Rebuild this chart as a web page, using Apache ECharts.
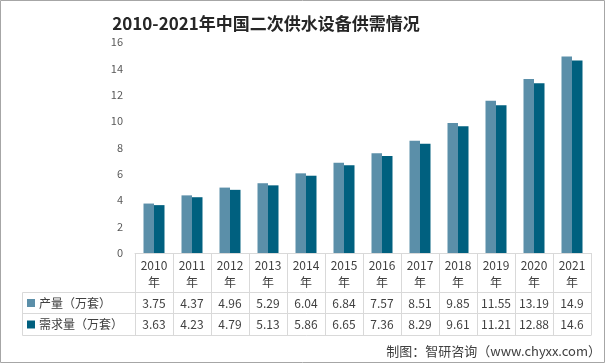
<!DOCTYPE html>
<html><head><meta charset="utf-8">
<script src="https://cdn.jsdelivr.net/npm/echarts@6/dist/echarts.min.js"></script>
<style>html,body{margin:0;padding:0;background:#fff}#c{width:605px;height:363px}</style>
</head><body><div id="c"></div>
<script>
const titleText = '2010-2021年中国二次供水设备供需情况';
const sourceText = '制图：智研咨询（www.chyxx.com）';
const years = ['2010','2011','2012','2013','2014','2015','2016','2017','2018','2019','2020','2021'];
const production = [3.75,4.37,4.96,5.29,6.04,6.84,7.57,8.51,9.85,11.55,13.19,14.9];
const demand = [3.63,4.23,4.79,5.13,5.86,6.65,7.36,8.29,9.61,11.21,12.88,14.6];
const seriesNames = ['产量（万套）','需求量（万套）'];
const yMin = 0, yMax = 16, yStep = 2;

const FONT = '"Noto Sans CJK SC", "Microsoft YaHei", sans-serif';
const C1 = '#5b8fa9', C2 = '#00607f';
const LINE = '#d9d9d9';
const W = 605, H = 363;
const gL = 135, gR = 591, gT = 42, gB = 253;
const rowY = [292.5, 313.5, 335.5];
const rowLeft = 22.5;

const chart = echarts.init(document.getElementById('c'), null, {renderer:'canvas'});
const valueAxis = (offset, arr) => ({
  type:'category', data: years, position:'bottom', offset: offset, gridIndex:0,
  axisLine:{show:false}, axisTick:{show:false},
  axisLabel:{interval:0, margin:0, verticalAlign:'middle', fontFamily:FONT, fontSize:12, color:'#404040',
    formatter:(v,i)=>String(arr[i])}
});
chart.setOption({
  animation:false,
  backgroundColor:'#fff',
  title:{text:titleText, left:261, textAlign:'center', top:10,
    textStyle:{fontFamily:FONT, fontSize:17, fontWeight:'bold', color:'#262626'}},
  grid:{left:gL, right:W-gR, top:gT, bottom:H-gB, containLabel:false},
  xAxis:[
    {type:'category', data: years, position:'bottom',
      axisLine:{show:true, lineStyle:{color:LINE, width:1}},
      axisTick:{show:true, interval:0, length: rowY[2]-gB, lineStyle:{color:LINE}},
      axisLabel:{interval:0, margin:4, fontFamily:FONT, fontSize:12, lineHeight:17, color:'#404040',
        formatter:v=>v+'\n年'}},
    valueAxis(rowY[0] + (rowY[1]-rowY[0])/2 - gB, production),
    valueAxis(rowY[1] + (rowY[2]-rowY[1])/2 - gB, demand)
  ],
  yAxis:{type:'value', min:yMin, max:yMax, interval:yStep,
    axisLine:{show:false}, axisTick:{show:false}, splitLine:{show:false},
    axisLabel:{margin:12, fontFamily:FONT, fontSize:11, color:'#595959'}},
  series:[
    {name:seriesNames[0], type:'bar', data:production, barWidth:10.5, barGap:'0%', itemStyle:{color:C1}},
    {name:seriesNames[1], type:'bar', data:demand, barWidth:10.5, barGap:'0%', itemStyle:{color:C2}}
  ],
  graphic:[
    {type:'rect', shape:{x:0.5, y:0.5, width:W-1, height:H-1}, style:{fill:null, stroke:'#a6a6a6', lineWidth:1}, silent:true},
    {type:'line', shape:{x1:rowLeft, y1:rowY[0], x2:gR, y2:rowY[0]}, style:{stroke:LINE, lineWidth:1}},
    {type:'line', shape:{x1:rowLeft, y1:rowY[1], x2:gR, y2:rowY[1]}, style:{stroke:LINE, lineWidth:1}},
    {type:'line', shape:{x1:rowLeft, y1:rowY[2], x2:gR, y2:rowY[2]}, style:{stroke:LINE, lineWidth:1}},
    {type:'line', shape:{x1:rowLeft, y1:rowY[0], x2:rowLeft, y2:rowY[2]}, style:{stroke:LINE, lineWidth:1}},
    {type:'rect', shape:{x:27, y:(rowY[0]+rowY[1])/2-4, width:8, height:8}, style:{fill:C1}},
    {type:'rect', shape:{x:27, y:(rowY[1]+rowY[2])/2-4, width:8, height:8}, style:{fill:C2}},
    {type:'text', x:39, y:(rowY[0]+rowY[1])/2, style:{text:seriesNames[0], fontFamily:FONT, fontSize:12, fill:'#404040', verticalAlign:'middle'}},
    {type:'text', x:39, y:(rowY[1]+rowY[2])/2, style:{text:seriesNames[1], fontFamily:FONT, fontSize:12, fill:'#404040', verticalAlign:'middle'}},
    {type:'text', x:601, y:351, style:{text:sourceText, fontFamily:FONT, fontSize:13, fill:'#404040', align:'right', verticalAlign:'middle'}}
  ]
});
</script></body></html>
